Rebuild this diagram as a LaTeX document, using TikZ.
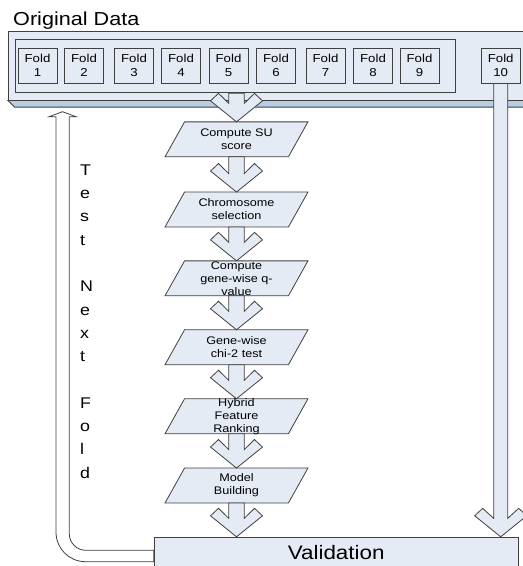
\documentclass[tikz,border=0pt]{standalone}
\usepackage{fontspec}
\setmainfont{Liberation Sans}[FakeStretch=1.15]
\usetikzlibrary{positioning, calc, backgrounds}
\definecolor{paleblue}{HTML}{E4EBF5}
\definecolor{slabblue}{HTML}{B9CDE5}
\definecolor{edge}{HTML}{404040}

% chevron block arrow: [half shaft width]{start}{tip}
\newcommand{\flowarrow}[3][7.7pt]{%
  \draw[flow] let \p1=(#2), \p2=(#3) in
    (\x2-#1,\y1) -- (\x2-#1,\y2+18.4pt) -- (\x2-18pt,\y2+28.5pt) -- (\x2-26pt,\y2+21pt)
    -- (\p2) -- (\x2+26pt,\y2+21pt) -- (\x2+18pt,\y2+28.5pt) -- (\x2+#1,\y2+18.4pt)
    -- (\x2+#1,\y1) -- cycle;}
% fixed-height text of a step, so that long texts run over the box
\newcommand{\steptext}[1]{\parbox[c][34.5pt][c]{80pt}{\centering #1}}

\begin{document}
\begin{tikzpicture}[
    x=1pt, y=-1pt,
    slab/.style={rectangle, draw=edge, fill=paleblue, minimum width=532pt,
                 minimum height=69pt, inner sep=0pt, line width=0.8pt},
    panel/.style={rectangle, draw=edge, fill=paleblue, minimum width=440pt,
                  minimum height=53.7pt, inner sep=0pt, line width=0.8pt},
    fold/.style={rectangle, draw=edge, fill=paleblue, minimum width=39pt,
                 minimum height=35pt, inner sep=0pt, align=center,
                 font=\fontsize{11.5}{14.3}\selectfont, line width=0.8pt},
    stepbox/.style={rectangle, minimum width=142.5pt, minimum height=34.5pt,
                    inner sep=0pt, font=\fontsize{11}{13}\selectfont},
    para/.style={draw=edge, fill=paleblue, line width=0.8pt},
    result/.style={rectangle, draw=edge, fill=paleblue, minimum width=364.3pt,
                   minimum height=30pt, inner sep=0pt,
                   font=\fontsize{19.5}{22}\selectfont, line width=0.8pt},
    flow/.style={draw=edge, fill=paleblue, line width=0.8pt, line join=miter},
    hollow/.style={draw=edge, fill=white, line width=0.8pt}
]
    \useasboundingbox (0,0) rectangle (523,566);
    \clip (0,0) rectangle (523,566);

    \node[anchor=base west, inner sep=0pt, font=\fontsize{18.8}{22}\selectfont]
        (title) at (13,25) {Original Data};

    % data slab with its lower face
    \node[slab] (data) at (274.3,65.5) {};
    \fill[slabblue, draw=edge, line width=0.8pt]
        (data.south west) -- ++(6.7pt,-6.7pt) -- ($(data.south east)+(0pt,-6.7pt)$)
        -- (data.south east) -- cycle;
    \node[panel] (train) at (235,65.9) {};
    \foreach \i/\x in {1/37.5, 2/84, 3/134, 4/181, 5/228.5, 6/276, 7/325.5, 8/373, 9/419.5, 10/500.7}
        \node[fold] (f\i) at (\x,65.5) {Fold\\\i};

    % pipeline
    \node[stepbox] (s1) at (236.5,139.3) {\steptext{Compute SU\\score}};
    \node[stepbox] (s2) at (236.5,209.5) {\steptext{Chromosome\\selection}};
    \node[stepbox] (s3) at (236.5,278.3) {\steptext{Compute\\gene-wise q-\\value}};
    \node[stepbox] (s4) at (236.5,347.2) {\steptext{Gene-wise\\chi-2 test}};
    \node[stepbox] (s5) at (236.5,416.2) {\steptext{Hybrid\\Feature\\Ranking}};
    \node[stepbox] (s6) at (236.5,485.5) {\steptext{Model\\Building}};
    \node[result] (valid) at (336.2,552.2) {Validation};

    \flowarrow{train.south -| s1}{s1.north}
    \begin{scope}[on background layer]
        \foreach \s in {s1,s2,s3,s4,s5,s6}
            \draw[para] (\s.south west) -- ([xshift=19.5pt]\s.north west)
                -- (\s.north east) -- ([xshift=-19.5pt]\s.south east) -- cycle;
        \flowarrow{s1.south}{s2.north}
        \flowarrow{s2.south}{s3.north}
        \flowarrow{s3.south}{s4.north}
        \flowarrow{s4.south}{s5.north}
        \flowarrow{s5.south}{s6.north}
    \end{scope}
    \flowarrow{s6.south}{s6.south |- valid.north}
    \flowarrow[7pt]{f10.south}{f10.south |- valid.north}

    % loop back to the next fold
    \coordinate (next) at (62.5,111.7);
    \draw[hollow] (valid.west |- 0,561.7) [rounded corners=29.5pt] -- (56,561.7)
        [sharp corners] -- (56,116.7) -- (49,116.7) -- (next) -- (76,116.7)
        -- (69.3,116.7) [rounded corners=16.5pt] -- (69.3,550.3)
        [sharp corners] -- (valid.west |- 0,550.3) -- cycle;
    \node[anchor=north west, inner sep=0pt, align=left,
          font=\fontsize{15.5}{23.3}\selectfont] (loop) at (80,164.5)
        {T\\e\\s\\t\\[23.3pt]N\\e\\x\\t\\[23.3pt]F\\o\\l\\d};
\end{tikzpicture}
\end{document}
